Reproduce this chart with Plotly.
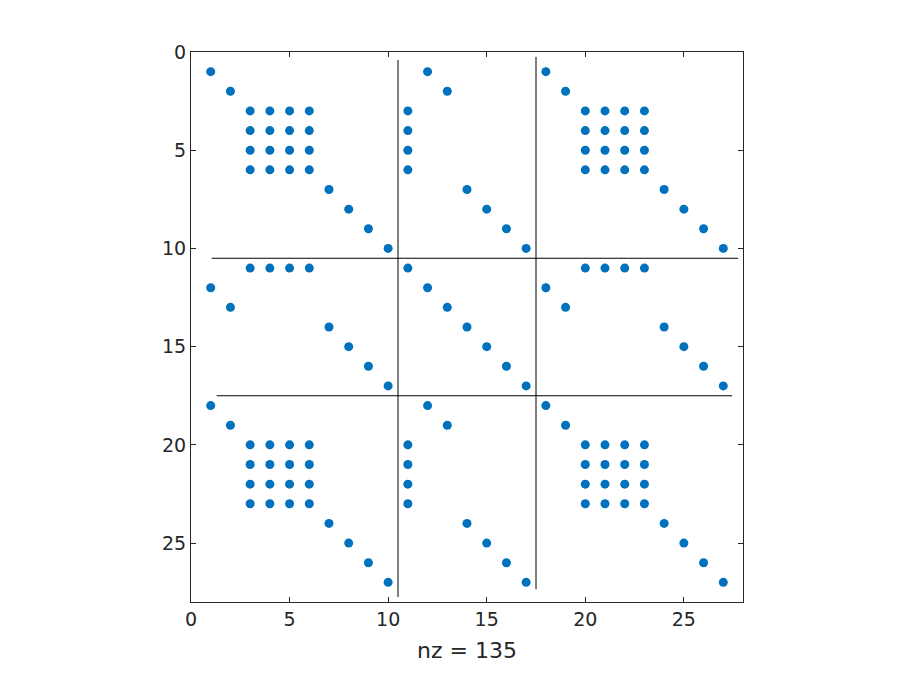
import plotly.graph_objects as go

# Sparsity pattern (row, col), 1-based
block_rows_top = [1, 2, 7, 8, 9, 10]        # diagonal-type rows in top block
block_rows_bot = [18, 19, 24, 25, 26, 27]   # same rows in bottom block
left_cols = [1, 2, 7, 8, 9, 10]
mid_cols = [12, 13, 14, 15, 16, 17]
right_cols = [18, 19, 24, 25, 26, 27]
dense_rows_top = [3, 4, 5, 6]
dense_rows_bot = [20, 21, 22, 23]
dense_cols = [3, 4, 5, 6, 11, 20, 21, 22, 23]
row11_cols = [3, 4, 5, 6, 11, 20, 21, 22, 23]
mid_rows = [12, 13, 14, 15, 16, 17]

# separator lines
sep_x = [10.5, 17.5]
sep_x_yrange = [[0.41, 27.75], [0.25, 27.35]]
sep_y = [10.5, 17.5]
sep_y_xrange = [[1.05, 27.75], [1.3, 27.45]]

rows, cols = [], []
for brows in (block_rows_top, mid_rows, block_rows_bot):
    for i, r in enumerate(brows):
        for cl in (left_cols, mid_cols, right_cols):
            rows.append(r); cols.append(cl[i])
for drows in (dense_rows_top, dense_rows_bot):
    for r in drows:
        for c in dense_cols:
            rows.append(r); cols.append(c)
for c in row11_cols:
    rows.append(11); cols.append(c)

fig = go.Figure()
fig.add_trace(go.Scatter(x=cols, y=rows, mode="markers",
                         marker=dict(color="#0072BD", size=9, symbol="circle", line=dict(width=0)),
                         showlegend=False, hoverinfo="skip"))
for x, yr in zip(sep_x, sep_x_yrange):
    fig.add_trace(go.Scatter(x=[x, x], y=yr, mode="lines", line=dict(color="black", width=1),
                             showlegend=False, hoverinfo="skip"))
for y, xr in zip(sep_y, sep_y_xrange):
    fig.add_trace(go.Scatter(x=xr, y=[y, y], mode="lines", line=dict(color="black", width=1),
                             showlegend=False, hoverinfo="skip"))

axis_common = dict(showgrid=False, zeroline=False, showline=True, linecolor="#262626", linewidth=1,
                   mirror="ticks", ticks="inside", ticklen=5, tickcolor="#262626",
                   tickfont=dict(family="DejaVu Sans", size=19, color="#262626"),
                   tickvals=[0, 5, 10, 15, 20, 25])
fig.update_layout(
    width=887, height=661,
    margin=dict(l=183, r=152, t=44, b=67),
    plot_bgcolor="white", paper_bgcolor="white",
    xaxis=dict(range=[0, 28], title=dict(text="nz = 135", font=dict(family="DejaVu Sans", size=22, color="#262626"), standoff=13), **axis_common),
    yaxis=dict(range=[28, 0], **axis_common),
)
fig.write_html("out.html")
print(len(rows))
